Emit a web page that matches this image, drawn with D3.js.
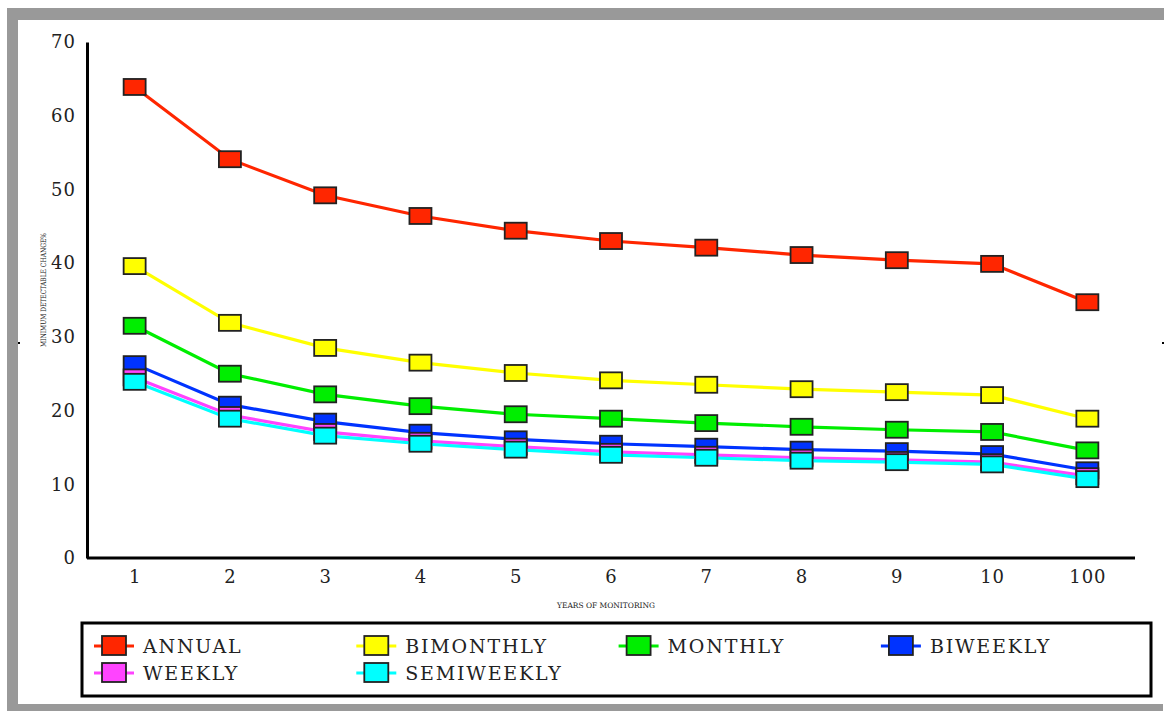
<!DOCTYPE html>
<html><head><meta charset="utf-8">
<script src="https://cdn.jsdelivr.net/npm/d3@7"></script>
<style>body{margin:0;background:#fff}svg{display:block}</style>
</head><body>
<svg id="c" width="1164" height="711"></svg>
<script>
const years = ["1","2","3","4","5","6","7","8","9","10","100"];
const yTicks = [0,10,20,30,40,50,60,70];
const seriesNames = ["ANNUAL","BIMONTHLY","MONTHLY","BIWEEKLY","WEEKLY","SEMIWEEKLY"];
const seriesColors = ["#ff2600","#ffff00","#00ee00","#0033ff","#ff44ff","#00ffff"];
const annual     = [63.9,54.1,49.2,46.4,44.4,43.0,42.1,41.1,40.4,39.9,34.7];
const bimonthly  = [39.6,31.9,28.5,26.5,25.1,24.1,23.5,22.9,22.5,22.1,18.9];
const monthly    = [31.5,25.0,22.2,20.6,19.5,18.9,18.3,17.8,17.4,17.1,14.6];
const biweekly   = [26.3,20.8,18.5,17.0,16.1,15.5,15.1,14.7,14.5,14.1,11.9];
const weekly     = [24.5,19.4,17.1,15.9,15.1,14.4,14.0,13.6,13.3,13.0,11.1];
const semiweekly = [23.9,18.9,16.6,15.5,14.7,14.0,13.6,13.2,13.0,12.7,10.7];
const seriesValues = [annual,bimonthly,monthly,biweekly,weekly,semiweekly];

const svg = d3.select("#c");
const font = "'DejaVu Serif', 'Liberation Serif', serif";

// frame
svg.append("rect").attr("x",7).attr("y",8).attr("width",1157).attr("height",12).attr("fill","#999");
svg.append("rect").attr("x",7).attr("y",8).attr("width",11).attr("height",703).attr("fill","#999");
svg.append("rect").attr("x",7).attr("y",704).attr("width",1156).attr("height",7).attr("fill","#999");
svg.append("rect").attr("x",18).attr("y",342).attr("width",2).attr("height",2).attr("fill","#000");
svg.append("rect").attr("x",1162).attr("y",342).attr("width",2).attr("height",2).attr("fill","#000");

const x = d3.scalePoint().domain(years).range([87,1135]).padding(0.5);
const y = d3.scaleLinear().domain([0,70]).range([558,42]);

// axes
const gy = svg.append("g").attr("transform","translate(87,0)")
  .call(d3.axisLeft(y).tickValues(yTicks).tickSize(0).tickPadding(11));
gy.select(".domain").attr("stroke","#000").attr("stroke-width",3);
gy.selectAll("text").attr("font-family",font).attr("font-size",18).attr("fill","#222").attr("letter-spacing",1);

const gx = svg.append("g").attr("transform","translate(0,558)")
  .call(d3.axisBottom(x).tickSize(0).tickPadding(12));
gx.select(".domain").attr("d","M87,0H1135").attr("stroke","#000").attr("stroke-width",3);
gx.selectAll("text").attr("font-family",font).attr("font-size",18).attr("fill","#222").attr("letter-spacing",1);

svg.append("text").attr("x",606).attr("y",608).attr("text-anchor","middle")
  .attr("font-family",font).attr("font-size",7.5).attr("textLength",98)
  .attr("lengthAdjust","spacingAndGlyphs").attr("fill","#222").text("YEARS OF MONITORING");
svg.append("text").attr("transform","translate(46,290) rotate(-90)").attr("text-anchor","middle")
  .attr("font-family",font).attr("font-size",7.5).attr("textLength",114)
  .attr("lengthAdjust","spacingAndGlyphs").attr("fill","#222").text("MINIMUM DETECTABLE CHANGE%");

// series
const line = d3.line().x((d,i)=>x(years[i])).y(d=>y(d));
const mw = 22, mh = 16;
seriesValues.forEach((vals,k)=>{
  const g = svg.append("g");
  g.append("path").datum(vals).attr("d",line).attr("fill","none")
    .attr("stroke",seriesColors[k]).attr("stroke-width",3.2);
  g.selectAll("rect").data(vals).join("rect")
    .attr("x",(d,i)=>x(years[i])-mw/2).attr("y",d=>y(d)-mh/2)
    .attr("width",mw).attr("height",mh)
    .attr("fill",seriesColors[k]).attr("stroke","#222").attr("stroke-width",1.8);
});

// legend
svg.append("rect").attr("x",82).attr("y",623).attr("width",1069).attr("height",73)
  .attr("fill","#fff").attr("stroke","#000").attr("stroke-width",3);
const lg = svg.append("g").selectAll("g").data(seriesNames).join("g")
  .attr("transform",(d,i)=>`translate(${114 + (i%4)*262.3},${646 + Math.floor(i/4)*27})`);
lg.append("line").attr("x1",-20).attr("x2",20).attr("y1",0).attr("y2",0)
  .attr("stroke",(d,i)=>seriesColors[i]).attr("stroke-width",3);
lg.append("rect").attr("x",-12).attr("y",-10).attr("width",24).attr("height",19)
  .attr("fill",(d,i)=>seriesColors[i]).attr("stroke","#222").attr("stroke-width",1.8);
lg.append("text").attr("x",29).attr("y",7).attr("font-family",font).attr("font-size",19)
  .attr("letter-spacing",1.8).attr("fill","#222").text(d=>d);
</script>
</body></html>
